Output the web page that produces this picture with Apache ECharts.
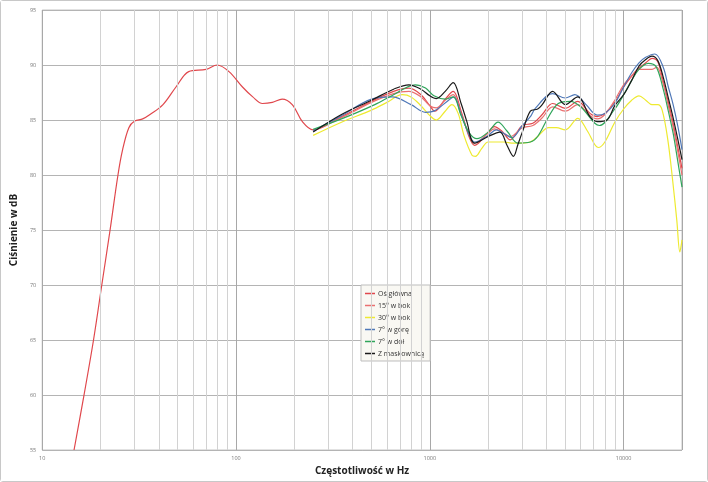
<!DOCTYPE html>
<html>
<head>
<meta charset="utf-8">
<script src="https://cdn.jsdelivr.net/npm/echarts@6/dist/echarts.min.js"></script>
<style>
  html, body { margin: 0; padding: 0; background: #fff; }
  #chart { width: 706px; height: 480px; border: 1px solid #c8c8c8; border-radius: 3px; }
</style>
</head>
<body>
<div id="chart"></div>
<script>
// pomiary: częstotliwość [Hz] i ciśnienie [dB]
const osGlownaHz = [14.6, 16.4, 18.4, 20.3, 22.4, 24.6, 26, 28, 30, 33, 36, 42, 49, 57, 70, 80, 92, 108, 122, 137, 154, 173, 195, 220, 250,
  350, 500, 650, 780, 900, 1000, 1060, 1200, 1320, 1450, 1600, 1700, 2000, 2150, 2350, 2600, 3000, 3400, 3800, 4300, 5000, 5800, 6700, 7300, 8000, 9000, 10000, 11000, 12000, 13000, 14000, 15000, 16000, 17000, 18000, 19000, 20000]
const osGlownaDb = [55, 59.9, 65, 70, 75, 80, 82.3, 84.3, 84.9, 85.1, 85.5, 86.4, 88, 89.4, 89.6, 90, 89.4, 88, 87.1, 86.5, 86.6, 86.9, 86.4, 84.85, 84.1,
  85.3, 86.7, 87.6, 87.9, 87.3, 86.3, 85.8, 86.9, 87.6, 85.8, 83.4, 82.7, 83.9, 84.4, 84.0, 83.2, 84.5, 84.7, 85.5, 86.5, 86.06, 86.7, 85.6, 85.3, 85.6, 86.6, 88.0, 89.0, 89.7, 90.2, 90.6, 90.3, 88.5, 86.6, 84.7, 82.6, 80.6]

const bok15Hz = [250, 350, 500, 650, 780, 900, 1000, 1080, 1200, 1320, 1450, 1600, 1700, 2000, 2150, 2350, 2600, 3000, 3400, 3800, 4300, 5000, 5800, 6700, 7300, 8000, 9000, 10000, 11000, 12000, 13000, 14000, 14800, 16000, 17000, 18000, 19000, 20000]
const bok15Db = [84.0, 85.2, 86.6, 87.4, 87.6, 87.1, 86.3, 86.1, 86.8, 87.3, 85.6, 83.6, 82.9, 83.8, 84.2, 83.9, 83.5, 84.3, 84.5, 85.2, 86.2, 85.8, 86.4, 85.4, 85.1, 85.5, 86.8, 88.2, 89.0, 89.6, 89.6, 89.6, 89.8, 88.3, 86.3, 84.4, 82.2, 80.0]

const bok30Hz = [250, 350, 500, 600, 720, 800, 900, 1000, 1080, 1200, 1300, 1400, 1500, 1650, 1720, 1850, 2000, 2400, 2700, 3000, 3300, 3600, 4100, 4500, 5000, 5800, 6500, 7400, 8000, 9000, 10000, 11000, 12000, 13000, 14000, 15000, 15800, 16900, 17900, 18800, 19500, 20000]
const bok30Db = [83.6, 84.8, 85.9, 86.6, 87.3, 87.1, 86.3, 85.4, 85.0, 85.8, 86.4, 85.6, 83.6, 81.8, 81.7, 82.4, 83.0, 83.0, 82.9, 82.9, 83.0, 83.5, 84.3, 84.3, 84.1, 85.15, 84.0, 82.5, 83.0, 84.8, 86.0, 86.8, 87.2, 86.8, 86.4, 86.4, 85.9, 83.2, 79.5, 75.9, 73.0, 74.1]

const gora7Hz = [250, 350, 500, 640, 800, 950, 1060, 1250, 1330, 1450, 1600, 1700, 2000, 2200, 2400, 2650, 3000, 3300, 3500, 4300, 5000, 5600, 6400, 7300, 8000, 9000, 10000, 11000, 12000, 13000, 14500, 16000, 17000, 18000, 19000, 20000]
const gora7Db = [84.0, 85.4, 86.9, 87.1, 86.4, 85.7, 85.85, 86.8, 87.1, 85.5, 83.6, 83.0, 83.6, 84.1, 83.8, 83.4, 84.5, 85.3, 86.06, 87.4, 87.0, 87.3, 86.4, 85.45, 85.6, 86.5, 88.0, 89.3, 90.2, 90.7, 91.0, 89.8, 88.0, 86.4, 84.5, 82.3]

const dol7Hz = [250, 350, 520, 650, 840, 950, 1050, 1200, 1320, 1450, 1600, 1750, 2000, 2250, 2500, 2850, 3300, 3600, 4100, 4600, 5300, 6000, 7100, 7500, 9000, 10000, 11000, 12000, 13400, 14700, 16000, 17000, 18000, 19000, 20000]
const dol7Db = [84.15, 85.1, 86.4, 87.3, 88.2, 87.9, 87.2, 86.9, 87.1, 85.4, 83.8, 83.3, 83.9, 84.8, 84.0, 82.9, 83.0, 83.5, 85.3, 86.5, 86.7, 86.2, 84.7, 84.5, 86.0, 87.3, 88.6, 89.6, 90.15, 89.85, 87.8, 85.8, 83.8, 81.3, 78.9]

const maskHz = [250, 350, 500, 650, 780, 900, 1000, 1080, 1200, 1320, 1450, 1550, 1700, 2000, 2300, 2500, 2700, 2850, 3000, 3300, 3600, 3800, 4300, 5000, 5800, 6700, 7300, 8200, 9000, 10000, 11000, 12000, 13000, 14000, 15000, 16000, 17000, 18000, 19000, 20000]
const maskDb = [83.9, 85.5, 86.8, 87.8, 88.2, 87.8, 87.2, 86.95, 87.6, 88.4, 86.5, 84.9, 82.9, 83.5, 83.9, 82.7, 81.7, 82.8, 83.9, 85.8, 86.0, 86.4, 87.6, 86.4, 87.1, 85.3, 84.85, 85.0, 86.3, 87.3, 88.6, 89.9, 90.5, 90.8, 90.4, 88.9, 87.0, 85.2, 83.3, 81.4]

const seriesNames = ['Oś główna', '15° w bok', '30° w bok', '7° w górę', '7° w dół', 'Z maskownicą']
const seriesColors = ['#e0474c', '#ea7070', '#eeea30', '#4f78b8', '#2fa55a', '#1a1a1a']
const seriesHz = [osGlownaHz, bok15Hz, bok30Hz, gora7Hz, dol7Hz, maskHz]
const seriesDb = [osGlownaDb, bok15Db, bok30Db, gora7Db, dol7Db, maskDb]

// pomocnicze linie siatki między dekadami
const minorHz = [20, 30, 40, 50, 60, 70, 80, 90, 200, 300, 400, 500, 600, 700, 800, 900, 2000, 3000, 4000, 5000, 6000, 7000, 8000, 9000]

const chart = echarts.init(document.getElementById('chart'))

const lines = seriesNames.map((name, i) => ({
  name: name,
  type: 'line',
  data: seriesHz[i].map((f, j) => [f, seriesDb[i][j]]),
  smooth: 0.35,
  showSymbol: false,
  clip: true,
  z: 3,
  lineStyle: { color: seriesColors[i], width: 1.2 },
  itemStyle: { color: seriesColors[i] }
}))

const option = {
  animation: false,
  backgroundColor: '#fff',
  textStyle: { fontFamily: 'Open Sans' },
  grid: {
    left: 38, right: 25, top: 9, bottom: 31,
    show: true, borderColor: '#c4c4c4', borderWidth: 1
  },
  legend: {
    data: seriesNames,
    orient: 'vertical',
    left: 360, top: 284,
    padding: [5, 6, 4, 4],
    itemGap: 5,
    itemWidth: 10, itemHeight: 1.5,
    icon: 'rect',
    backgroundColor: '#f9f8f3',
    borderColor: '#bdbdbd', borderWidth: 1,
    textStyle: { fontSize: 7, color: '#333', padding: [0, 0, 0, -2] }
  },
  xAxis: {
    type: 'log', logBase: 10, min: 10, max: 20000,
    name: 'Częstotliwość w Hz',
    nameLocation: 'middle', nameGap: 16,
    nameTextStyle: { fontSize: 10, fontWeight: 'bold', color: '#222' },
    axisLine: { show: false },
    axisTick: { show: false },
    axisLabel: { fontSize: 5.5, color: '#777', margin: 5, showMaxLabel: false, formatter: v => String(Math.round(v)) },
    splitLine: { show: true, lineStyle: { color: '#a8a8a8', width: 1 } }
  },
  yAxis: {
    type: 'value', min: 55, max: 95, interval: 5,
    name: 'Ciśnienie w dB',
    nameLocation: 'middle', nameGap: 11, nameRotate: 90,
    nameTextStyle: { fontSize: 10, fontWeight: 'bold', color: '#222' },
    axisLine: { show: false },
    axisTick: { show: false },
    axisLabel: { fontSize: 5.5, color: '#777', margin: 6 },
    splitLine: { show: true, lineStyle: { color: '#b4b4b4', width: 1 } }
  },
  series: [
    {
      name: 'siatka',
      type: 'line',
      data: [],
      silent: true,
      z: 1,
      markLine: {
        silent: true,
        symbol: ['none', 'none'],
        label: { show: false },
        lineStyle: { color: '#d2d2d2', width: 1, type: 'solid' },
        data: minorHz.map(f => ({ xAxis: f }))
      }
    }
  ].concat(lines)
}

chart.setOption(option)
</script>
</body>
</html>
